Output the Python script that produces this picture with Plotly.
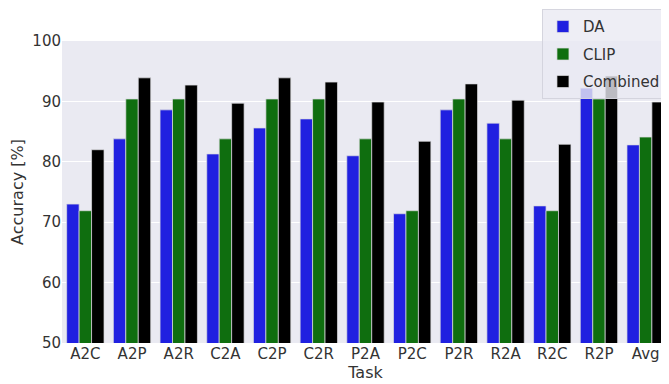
import plotly.graph_objects as go

tasks = ["A2C", "A2P", "A2R", "C2A", "C2P", "C2R", "P2A", "P2C", "P2R", "R2A", "R2C", "R2P", "Avg"]
da = [73.0, 83.8, 88.6, 81.3, 85.6, 87.1, 81.0, 71.4, 88.6, 86.4, 72.7, 92.2, 82.8]
clip = [71.9, 90.4, 90.4, 83.8, 90.4, 90.4, 83.8, 71.9, 90.4, 83.8, 71.9, 90.4, 84.1]
combined = [82.0, 93.9, 92.7, 89.7, 93.9, 93.2, 89.9, 83.4, 92.9, 90.2, 82.9, 94.2, 89.9]
y_ticks = [50, 60, 70, 80, 90, 100]

series = [("DA", da, "#2020e0"), ("CLIP", clip, "#0f6e0f"), ("Combined", combined, "#000000")]

fig = go.Figure()
for name, vals, col in series:
    fig.add_trace(go.Bar(
        x=tasks, y=vals, name=name, legendgroup=name,
        marker=dict(color=col, line=dict(color="rgba(220,220,225,0.9)", width=0.8)),
    ))

font = "DejaVu Sans"
fig.update_layout(
    width=661, height=376,
    margin=dict(l=54, r=0, t=33, b=41),
    paper_bgcolor="white",
    plot_bgcolor="#EAEAF2",
    barmode="group",
    bargap=0.2,
    bargroupgap=0,
    font=dict(family=font, size=15, color="#333333"),
    xaxis=dict(
        title=dict(text="Task", font=dict(size=16), standoff=2),
        showgrid=False, ticks="", zeroline=False,
        range=[-0.5, 12.5],
        tickfont=dict(size=15),
    ),
    yaxis=dict(
        title=dict(text="Accuracy [%]", font=dict(size=16), standoff=8),
        range=[50, 100], tickvals=y_ticks,
        showgrid=True, gridcolor="white", gridwidth=1,
        zeroline=False, ticks="",
        tickfont=dict(size=15),
    ),
    legend=dict(
        x=0.995, y=1.105, xanchor="right", yanchor="top",
        bgcolor="rgba(234,234,242,0.8)",
        bordercolor="rgba(210,210,220,0.9)", borderwidth=1,
        font=dict(size=15),
        traceorder="grouped",
        tracegroupgap=5,
    ),
)

fig.write_html("out.html")
